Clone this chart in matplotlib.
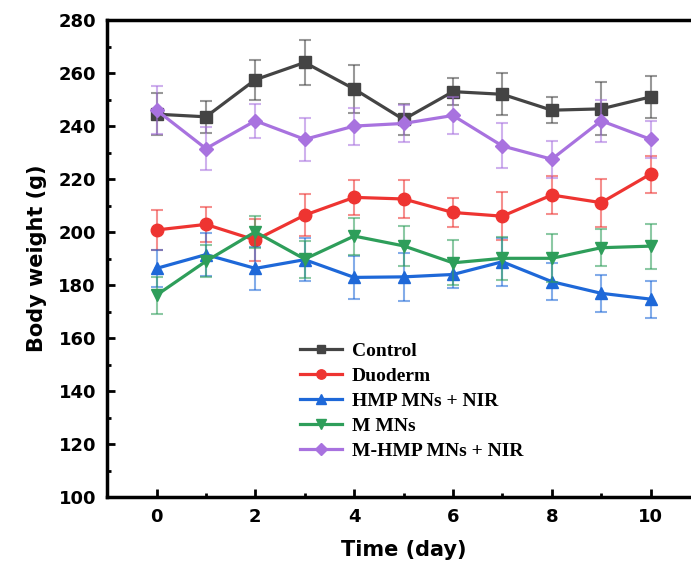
import matplotlib
matplotlib.use("Agg")
import matplotlib.pyplot as plt
from matplotlib.ticker import MultipleLocator

days = [0, 1, 2, 3, 4, 5, 6, 7, 8, 9, 10]

control = [244.5, 243.5, 257.5, 264, 254, 242.5, 253, 252, 246, 246.5, 251]
control_err = [8, 6, 7.5, 8.5, 9, 6, 5, 8, 5, 10, 8]
duoderm = [200.8, 202.9, 197, 206.4, 213.1, 212.5, 207.4, 206, 214, 211.1, 221.9]
duoderm_err = [7.5, 6.5, 8, 8, 6.5, 7, 5.5, 9, 7, 9, 7]
hmp_nir = [186.3, 191.5, 186.3, 189.6, 182.9, 183.1, 184, 188.8, 181.3, 176.9, 174.7]
hmp_nir_err = [7, 8, 8, 8, 8, 9, 5, 9, 7, 7, 7]
m_mns = [176.2, 189, 200.1, 189.8, 198.5, 194.8, 188.4, 190.1, 190.1, 194.1, 194.7]
m_mns_err = [7, 6, 6, 7, 7, 7.5, 8.5, 8, 9, 7, 8.5]
m_hmp_nir = [246, 231.5, 242, 235, 240, 241, 244, 232.5, 227.5, 242, 235]
m_hmp_nir_err = [9, 8, 6.5, 8, 7, 7, 7, 8.5, 7, 8, 7]

series = [
    ("Control", control, control_err, "#444444", "s", 8),
    ("Duoderm", duoderm, duoderm_err, "#EE3431", "o", 9),
    ("HMP MNs + NIR", hmp_nir, hmp_nir_err, "#1E68D8", "^", 9),
    ("M MNs", m_mns, m_mns_err, "#2E9E5A", "v", 9),
    ("M-HMP MNs + NIR", m_hmp_nir, m_hmp_nir_err, "#A872DF", "D", 7.5),
]

fig = plt.figure(figsize=(6.91, 5.74), dpi=100)
ax = fig.add_axes([0.155, 0.134, 0.858, 0.831])

for name, y, err, col, mk, ms in series:
    ax.errorbar(days, y, yerr=err, fmt="none", ecolor=col, alpha=0.55,
                elinewidth=1.5, capsize=4, capthick=1.5)
    ax.plot(days, y, color=col, marker=mk, ms=ms, lw=2.3, label=name)

ax.set_xlim(-1, 11)
ax.set_ylim(100, 280)
ax.xaxis.set_major_locator(MultipleLocator(2))
ax.xaxis.set_minor_locator(MultipleLocator(1))
ax.yaxis.set_major_locator(MultipleLocator(20))
ax.yaxis.set_minor_locator(MultipleLocator(10))
ax.tick_params(which="both", direction="in", width=2, labelsize=13, pad=8)
ax.tick_params(which="major", length=6)
ax.tick_params(which="minor", length=3)
for lbl in ax.get_xticklabels() + ax.get_yticklabels():
    lbl.set_fontweight("bold")
for sp in ax.spines.values():
    sp.set_linewidth(2.5)

ax.set_xlabel("Time (day)", fontsize=15, fontweight="bold", labelpad=10)
ax.set_ylabel("Body weight (g)", fontsize=15, fontweight="bold", labelpad=8)

ax.legend(loc="upper left", bbox_to_anchor=(0.295, 0.362), frameon=False,
          prop={"family": "Liberation Serif", "weight": "bold", "size": 14},
          handlelength=2.2, labelspacing=0.38, handletextpad=0.5, markerscale=0.75)

fig.savefig("out.png", dpi=100)
